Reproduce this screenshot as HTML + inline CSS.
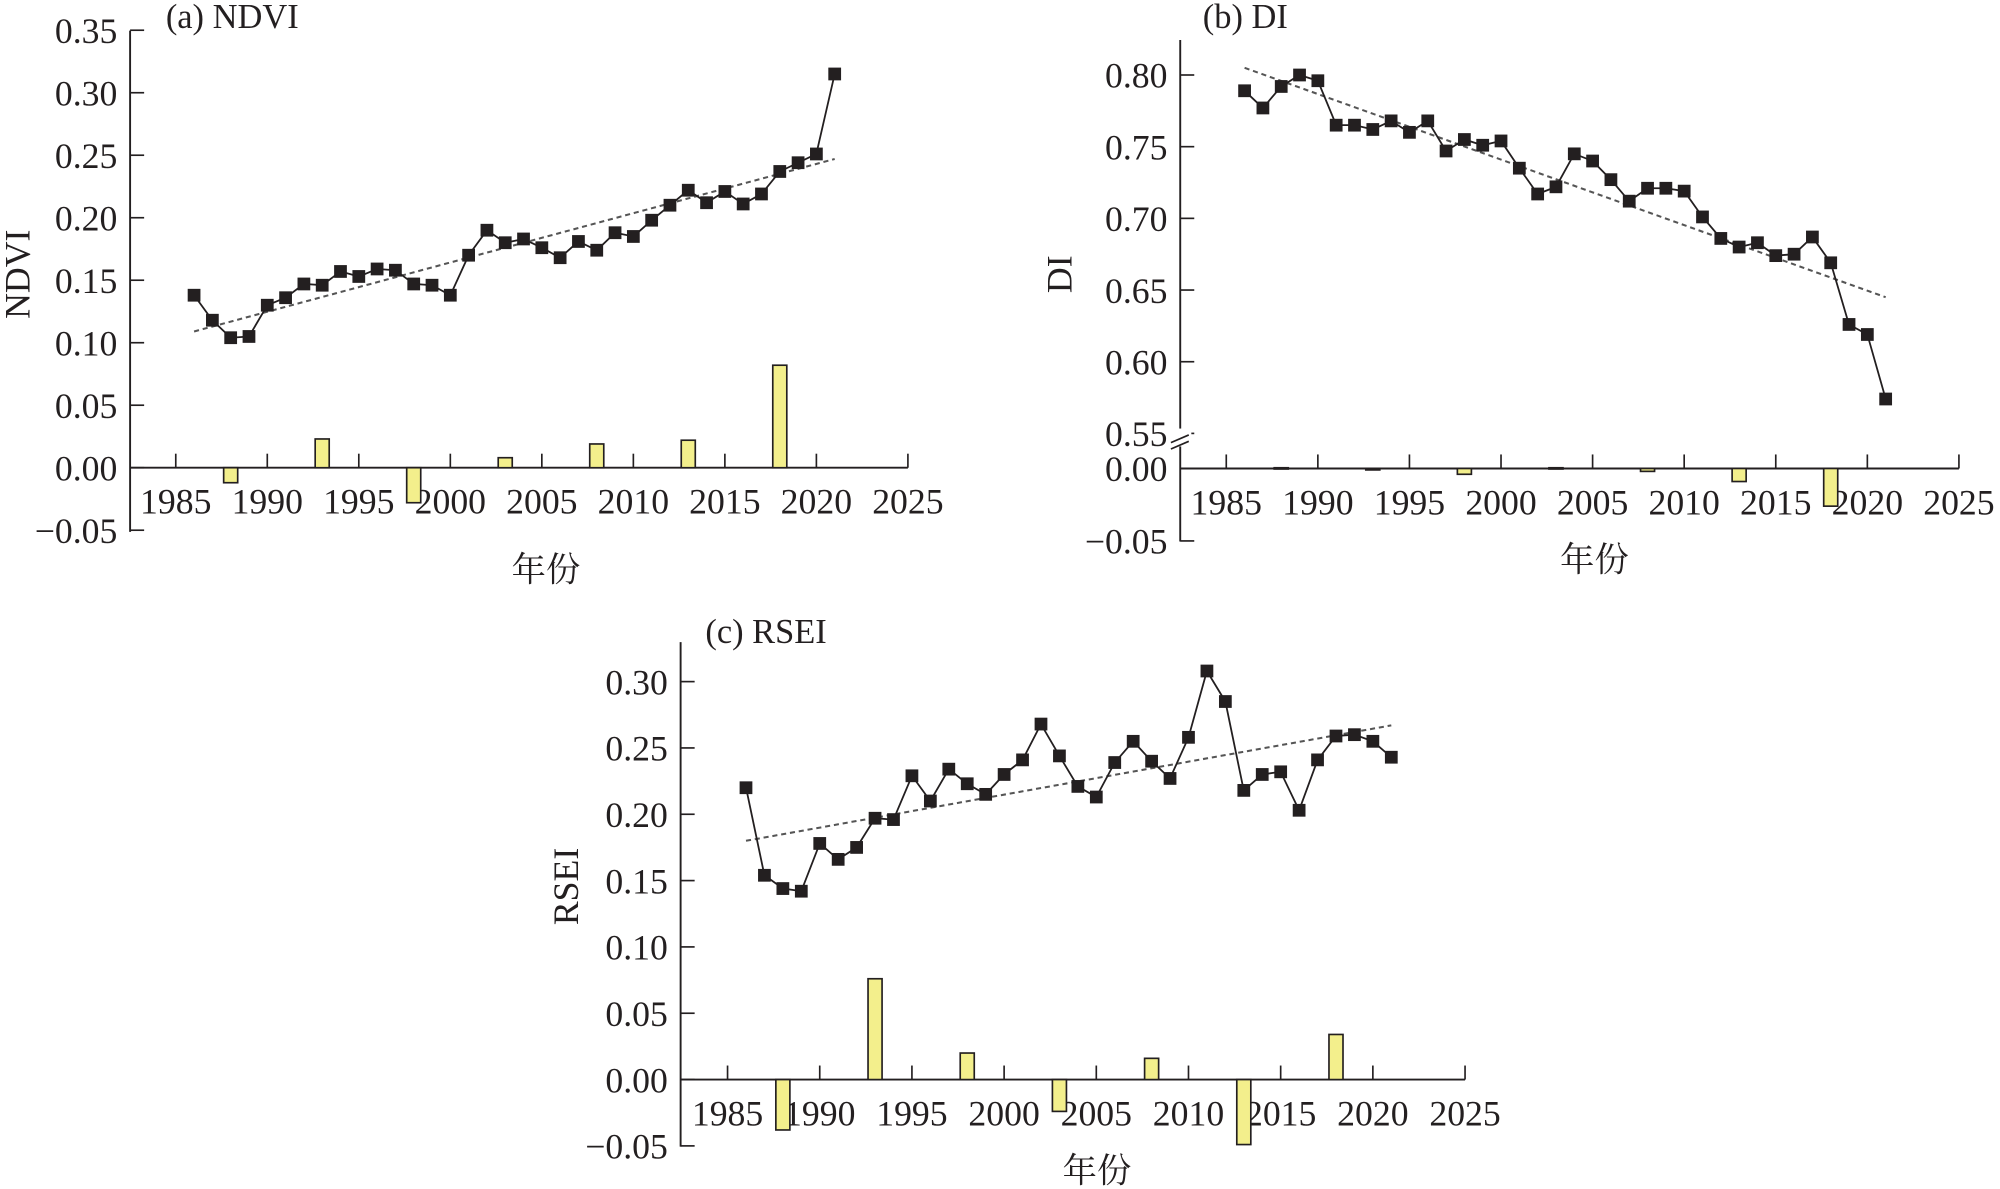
<!DOCTYPE html>
<html><head><meta charset="utf-8"><style>
html,body{margin:0;padding:0;background:#fff;width:2000px;height:1189px;overflow:hidden}
svg{display:block}
text{font-family:"Liberation Serif","Noto Serif CJK SC",serif;fill:#231f20}
</style></head><body>
<svg id="s" width="2000" height="1189" viewBox="0 0 1568 932.2" preserveAspectRatio="none" xmlns="http://www.w3.org/2000/svg"></svg>
<script>
const S=document.getElementById('s');let h='';
function panel(o){
 const X=y=>o.x0+(y-1985)*o.px;
 const Y=v=>o.vy(v);
 h+=`<line x1="${o.ax}" y1="${o.top}" x2="${o.ax}" y2="${o.bot}" stroke="#231f20" stroke-width="1.5"/>`;
 h+=`<line x1="${o.ax}" y1="${o.zero}" x2="${X(2025)}" y2="${o.zero}" stroke="#231f20" stroke-width="1.5"/>`;
 for(let y=1985;y<=2025;y+=5){h+=`<line x1="${X(y)}" y1="${o.zero}" x2="${X(y)}" y2="${o.zero-11}" stroke="#231f20" stroke-width="1.3"/>`;
  h+=`<text x="${X(y)}" y="${o.zero+36}" font-size="28" text-anchor="middle">${y}</text>`;}
 o.ticks.forEach(t=>{const yy=t[1];h+=`<line x1="${o.ax}" y1="${yy}" x2="${o.ax+11}" y2="${yy}" stroke="#231f20" stroke-width="1.3"/>`;
  h+=`<text x="${o.ax-10}" y="${yy+10}" font-size="28" text-anchor="end">${t[0]}</text>`;});
 o.bars.forEach(b=>{const y0=o.zero,y1=o.zero-b[1]*o.bs;h+=`<rect x="${X(b[0])-5.5}" y="${Math.min(y0,y1)}" width="11" height="${Math.max(Math.abs(y1-y0),1)}" fill="#f3ef8c" stroke="#231f20" stroke-width="1.3"/>`;});
 h+=`<line x1="${X(1986)}" y1="${Y(o.tr[0])}" x2="${X(2021)}" y2="${Y(o.tr[1])}" stroke="#555" stroke-width="1.6" stroke-dasharray="4,3"/>`;
 let p=o.d.map((v,i)=>`${X(1986+i).toFixed(1)},${Y(v).toFixed(1)}`).join(' ');
 h+=`<polyline points="${p}" fill="none" stroke="#231f20" stroke-width="1.4"/>`;
 o.d.forEach((v,i)=>{h+=`<rect x="${X(1986+i)-5}" y="${Y(v)-5}" width="10" height="10" fill="#231f20"/>`;});
 h+=`<text x="${o.t[0]}" y="${o.t[1]}" font-size="27">${o.t[2]}</text>`;
 h+=`<text transform="translate(${o.yl[0]},${o.yl[1]}) rotate(-90)" font-size="28" text-anchor="middle">${o.yl[2]}</text>`;
 h+=`<text x="${o.xl[0]}" y="${o.xl[1]}" font-size="27" text-anchor="middle">年份</text>`;
}
{const z=366.7,k=49.0/0.05;panel({x0:137.8,px:14.35,ax:102,top:24,bot:417,zero:z,bs:k,vy:v=>z-v*k,
ticks:[["0.35",z-.35*k],["0.30",z-.30*k],["0.25",z-.25*k],["0.20",z-.20*k],["0.15",z-.15*k],["0.10",z-.10*k],["0.05",z-.05*k],["0.00",z],["−0.05",z+.05*k]],
d:[.138,.118,.104,.105,.130,.136,.147,.146,.157,.153,.159,.158,.147,.146,.138,.170,.190,.180,.183,.176,.168,.181,.174,.188,.185,.198,.210,.222,.212,.221,.211,.219,.237,.244,.251,.315],
tr:[.109,.247],bars:[[1988,-.012],[1993,.023],[1998,-.028],[2003,.008],[2008,.019],[2013,.022],[2018,.082]],
t:[130,22,"(a) NDVI"],yl:[23,215,"NDVI"],xl:[428,456]});}
{const z=367.3,k=56.8/0.05,ky=56.2/0.05;panel({x0:961.4,px:14.36,ax:925.3,top:31.4,bot:424.5,zero:z,bs:k,vy:v=>58.8-(v-.80)*ky,
ticks:[["0.80",58.8],["0.75",58.8+.05*ky],["0.70",58.8+.10*ky],["0.65",58.8+.15*ky],["0.60",58.8+.20*ky],["0.55",58.8+.25*ky],["0.00",z],["−0.05",z+.05*k]],
d:[.789,.777,.792,.800,.796,.765,.765,.762,.768,.760,.768,.747,.755,.751,.754,.735,.717,.722,.745,.740,.727,.712,.721,.721,.719,.701,.686,.680,.683,.674,.675,.687,.669,.626,.619,.574],
tr:[.805,.645],bars:[[1988,.0005],[1993,-.001],[1998,-.004],[2003,.0005],[2008,-.002],[2013,-.009],[2018,-.026]],
t:[943,22,"(b) DI"],yl:[840,215,"DI"],xl:[1250,448]});
h+=`<rect x="918" y="336" width="16" height="14" fill="#fff"/><line x1="918" y1="347" x2="932" y2="341" stroke="#231f20" stroke-width="1.3"/><line x1="918" y1="352" x2="932" y2="346" stroke="#231f20" stroke-width="1.3"/>`;}
{const z=846.4,k=52.0/0.05;panel({x0:570.4,px:14.455,ax:533.6,top:503.4,bot:899,zero:z,bs:k,vy:v=>z-v*k,
ticks:[["0.30",z-.30*k],["0.25",z-.25*k],["0.20",z-.20*k],["0.15",z-.15*k],["0.10",z-.10*k],["0.05",z-.05*k],["0.00",z],["−0.05",z+.05*k]],
d:[.220,.154,.144,.142,.178,.166,.175,.197,.196,.229,.210,.234,.223,.215,.230,.241,.268,.244,.221,.213,.239,.255,.240,.227,.258,.308,.285,.218,.230,.232,.203,.241,.259,.260,.255,.243],
tr:[.180,.267],bars:[[1988,-.038],[1993,.076],[1998,.020],[2003,-.024],[2008,.016],[2013,-.049],[2018,.034]],
t:[553,504,"(c) RSEI"],yl:[453,695,"RSEI"],xl:[860,927]});}
S.innerHTML=h;
</script>
</body></html>
